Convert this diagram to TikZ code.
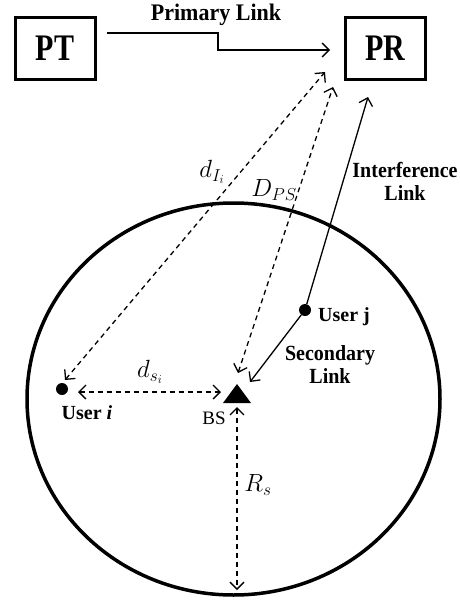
\documentclass[tikz,border=0pt]{standalone}
\usepackage{fontspec}
\setmainfont{Liberation Serif}
\usetikzlibrary{arrows.meta}
\begin{document}
\begin{tikzpicture}[x=1pt,y=-1pt,
  box/.style={draw,line width=3pt,minimum width=80pt,minimum height=61pt,inner sep=0pt,font=\bfseries\fontsize{30}{30}\selectfont},
  lbl/.style={font=\bfseries\fontsize{20}{22}\selectfont,align=center},
  mlbl/.style={font=\fontsize{23}{25}\selectfont},
  dot/.style={circle,fill=black,minimum size=12pt,inner sep=0pt},
  link/.style={line width=1.3pt,-{Straight Barb[length=7pt,width=14pt,line width=1.3pt]}},
  dlink/.style={line width=1.3pt,dash pattern=on 5pt off 4pt,{Straight Barb[length=7pt,width=14pt,line width=1.3pt]}-{Straight Barb[length=7pt,width=14pt,line width=1.3pt]}}
]
\useasboundingbox (0,0) rectangle (460,602);
% cell
\draw[line width=3.5pt] (233.5,399) ellipse [x radius=206.5pt, y radius=196pt];
% boxes
\node[box] (pt) at (55,48.5) {\scalebox{1}[1.25]{PT}};
\node[box] (pr) at (385.5,48.5) {\scalebox{1}[1.25]{PR}};
% nodes
\node[dot] (ui) at (62,389) {};
\node[dot] (uj) at (305,310) {};
\coordinate (bs) at (237,395);
\fill (237,384) -- (251,403) -- (223,403) -- cycle;
% coordinates for free ends
\coordinate (p0) at (107,33);
\coordinate (p1) at (330,50);
\coordinate (tI) at (325,72);
\coordinate (bI) at (65,380);
\coordinate (tD) at (333,87);
\coordinate (bD) at (238,373);
\coordinate (tF) at (368,97);
\coordinate (tS) at (250,382);
\coordinate (sL) at (78,392);
\coordinate (sR) at (221,392);
\coordinate (rT) at (237,407);
\coordinate (rB) at (237,590);
% links
\draw[link] (p0) -- (218,33) -- (218,50) -- (p1);
\draw[dlink] (bI) -- (tI);
\draw[dlink] (bD) -- (tD);
\draw[link] (uj) -- (tF);
\draw[link] (uj) -- (tS);
\draw[dlink] (sL) -- (sR);
\draw[dlink] (rT) -- (rB);
% labels
\node[lbl,font=\bfseries\fontsize{22}{24}\selectfont] (lp) at (216,15) {\scalebox{1}[1.08]{Primary Link}};
\node[lbl] (lf) at (405,181) {\scalebox{1}[1.08]{Interference}\\[1pt]\scalebox{1}[1.08]{Link}};
\node[lbl] (ls) at (330,365) {\scalebox{1}[1.08]{Secondary}\\[1pt]\scalebox{1}[1.08]{Link}};
\node[lbl] (luj) at (344,317) {User j};
\node[lbl] (lui) at (87,413) {User \textit{i}};
\node[font=\fontsize{19}{21}\selectfont] (lbs) at (214,418) {BS};
\node[mlbl] (ldi) at (212,172) {$d_{I_i}$};
\node[mlbl] (ldp) at (274,190) {$D_{PS}$};
\node[mlbl] (lds) at (150,372) {$d_{s_i}$};
\node[mlbl] (lrs) at (258,485) {$R_s$};
\end{tikzpicture}
\end{document}
